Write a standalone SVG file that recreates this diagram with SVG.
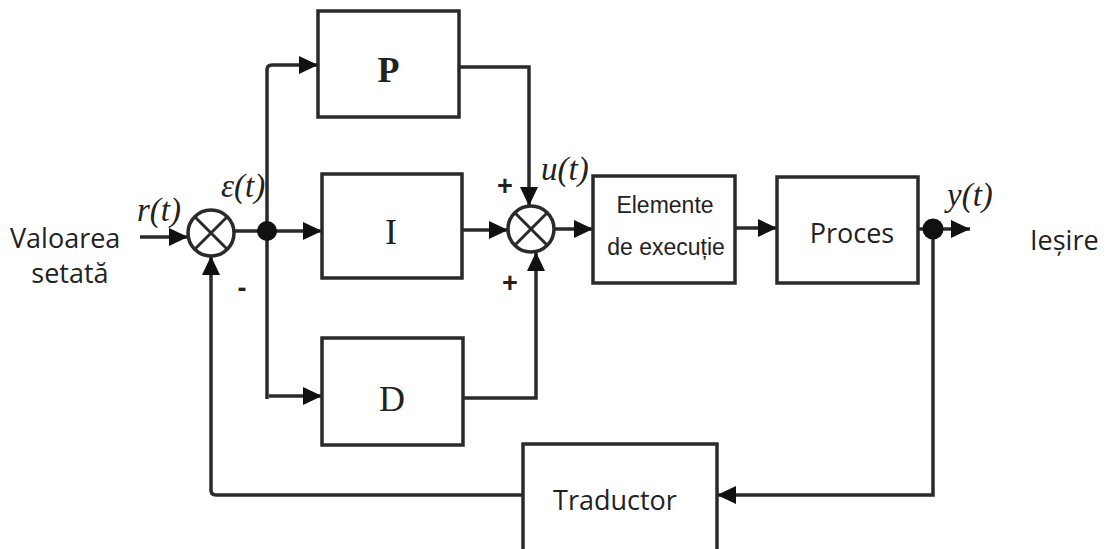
<svg xmlns="http://www.w3.org/2000/svg" width="1117" height="549" viewBox="0 0 1117 549">
<defs>
<marker id="arr" markerUnits="userSpaceOnUse" markerWidth="20" markerHeight="18" refX="19" refY="9" orient="auto">
<path d="M0,0 L19,9 L0,18 z" fill="#111"/>
</marker>
</defs>
<style>
.box{fill:#fff;stroke:#2a2a2a;stroke-width:3.5}
.ln{fill:none;stroke:#2a2a2a;stroke-width:3.5}
.sum{fill:#fff;stroke:#2a2a2a;stroke-width:3.5}
.x{stroke:#2a2a2a;stroke-width:3}
.t{font-family:"Open Sans","Liberation Sans",sans-serif;font-size:27px;fill:#222}
.ts{font-family:"Liberation Sans",Arial,sans-serif;font-size:23px;fill:#222}
.m{font-family:"Liberation Serif","Times New Roman",serif;font-style:italic;font-size:33px;fill:#222}
.g{font-family:"Liberation Serif","Times New Roman",serif;font-size:36px;fill:#222;text-anchor:middle}
.pm{font-family:"Liberation Sans",Arial,sans-serif;font-size:27px;font-weight:bold;fill:#222;text-anchor:middle}
</style>
<rect width="1117" height="549" fill="#fff"/>
<g id="connectors">
<line class="ln" x1="140" y1="237" x2="188" y2="237" marker-end="url(#arr)"/>
<line class="ln" x1="234" y1="231" x2="267" y2="231"/>
<line class="ln" x1="267" y1="231" x2="322" y2="231" marker-end="url(#arr)"/>
<path class="ln" d="M267,399 L267,70 Q267,65 272,65 L318,65" marker-end="url(#arr)"/>
<line class="ln" x1="269" y1="396" x2="322" y2="396" marker-end="url(#arr)"/>
<path class="ln" d="M459,67 L529,67 L529,206" marker-end="url(#arr)"/>
<line class="ln" x1="462" y1="230" x2="508" y2="230" marker-end="url(#arr)"/>
<path class="ln" d="M463,398 L536,398 L536,252" marker-end="url(#arr)"/>
<line class="ln" x1="554" y1="229" x2="593" y2="229" marker-end="url(#arr)"/>
<line class="ln" x1="735" y1="228" x2="777" y2="228" marker-end="url(#arr)"/>
<line class="ln" x1="918" y1="229" x2="933" y2="229"/>
<line class="ln" x1="933" y1="229" x2="970" y2="229" marker-end="url(#arr)"/>
<path class="ln" d="M933,229 L933,495 L717,495" marker-end="url(#arr)"/>
<path class="ln" d="M523,495 L216,495 Q211,495 211,490 L211,256" marker-end="url(#arr)"/>
</g>
<g id="sum1">
<circle class="sum" cx="211" cy="233" r="23"/>
<line class="x" x1="195" y1="217" x2="227" y2="249"/>
<line class="x" x1="227" y1="217" x2="195" y2="249"/>
</g>
<g id="sum2">
<circle class="sum" cx="531" cy="229" r="23"/>
<line class="x" x1="515" y1="213" x2="547" y2="245"/>
<line class="x" x1="547" y1="213" x2="515" y2="245"/>
</g>
<g id="dot1"><circle cx="267" cy="231" r="10" fill="#111"/></g>
<g id="dot2"><circle cx="933" cy="229" r="10.5" fill="#111"/></g>
<g id="P">
<rect class="box" x="318" y="11" width="141" height="106"/>
<text class="g" x="388.5" y="82" font-weight="bold" font-size="34">P</text>
</g>
<g id="I">
<rect class="box" x="322" y="174" width="140" height="104"/>
<text class="g" x="391" y="244">I</text>
</g>
<g id="D">
<rect class="box" x="322" y="338" width="141" height="107"/>
<text class="g" x="392" y="411">D</text>
</g>
<g id="elemente">
<rect class="box" x="593" y="176" width="142" height="107"/>
<text class="ts" x="665" y="213" text-anchor="middle">Elemente</text>
<text class="ts" x="666" y="255" text-anchor="middle">de execuție</text>
</g>
<g id="proces">
<rect class="box" x="777" y="177" width="141" height="106"/>
<text class="t" x="852" y="243" text-anchor="middle">Proces</text>
</g>
<g id="traductor">
<rect class="box" x="523" y="444" width="194" height="110"/>
<text class="t" x="615" y="510" text-anchor="middle">Traductor</text>
</g>
<g id="labels">
<text class="t" x="10" y="248">Valoarea</text>
<text class="t" x="70" y="283" text-anchor="middle">setată</text>
<text class="t" x="1030" y="250">Ieșire</text>
<text class="m" x="137" y="221">r(t)</text>
<text class="m" x="221" y="197">ε(t)</text>
<text class="m" x="541" y="180">u(t)</text>
<text class="m" x="947" y="206">y(t)</text>
<text class="pm" x="505" y="195">+</text>
<text class="pm" x="510" y="292">+</text>
<text class="pm" x="242" y="297">-</text>
</g>
</svg>
